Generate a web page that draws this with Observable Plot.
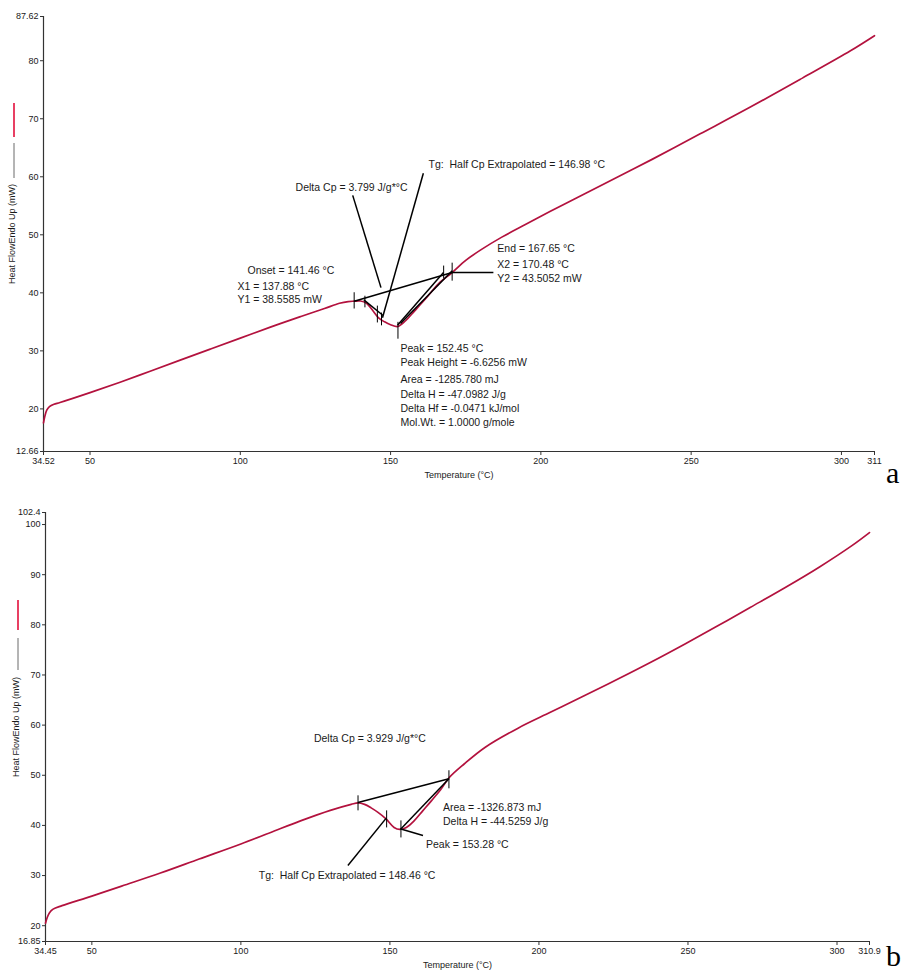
<!DOCTYPE html>
<html>
<head>
<meta charset="utf-8">
<script src="https://cdn.jsdelivr.net/npm/d3@7"></script>
<script src="https://cdn.jsdelivr.net/npm/@observablehq/plot@0.6"></script>
<style>
  html, body { margin: 0; padding: 0; background: #fff; }
  #wrap { position: relative; width: 903px; height: 976px; overflow: hidden; background: #fff; }
  #wrap > div.panel { position: absolute; left: 0; }
  .tag { position: absolute; font-family: "Liberation Serif", "DejaVu Serif", serif; font-size: 30px; line-height: 1; color: #000; }
</style>
</head>
<body>
<div id="wrap">
  <div class="panel" id="pa" style="top:0"></div>
  <div class="panel" id="pb" style="top:490px"></div>
  <div class="tag" style="left:886px; top:458px">a</div>
  <div class="tag" style="left:886px; top:941px">b</div>
</div>
<script>
// ---------------- Panel a data ----------------
const tempA = [34.52, 35.0, 35.6, 36.5, 38, 40, 50, 60, 70, 80, 90, 100, 110, 120, 128, 133, 135.9, 137.88, 140, 142, 144, 146, 148, 150, 152.45, 155, 158, 162, 166, 170.48, 175, 180, 187, 195, 203, 212, 220, 237, 253, 270, 287, 303, 311];
const heatA = [17.6, 18.8, 19.8, 20.4, 20.8, 21.1, 22.8, 24.6, 26.5, 28.4, 30.3, 32.2, 34.1, 35.9, 37.3, 38.2, 38.5, 38.56, 38.6, 38.2, 37.0, 35.7, 35.0, 34.5, 34.2, 35.2, 36.9, 39.2, 41.6, 43.5, 45.6, 47.4, 49.6, 51.8, 54.0, 56.4, 58.5, 63.0, 67.4, 72.1, 77.0, 81.7, 84.3];
const xTicksA = [34.52, 50, 100, 150, 200, 250, 300, 311];
const yTicksA = [12.66, 20, 30, 40, 50, 60, 70, 80, 87.62];
// annotation segments (temperature, heat flow)
const segX1A = [137.88, 170.48, 141.1, 152.3, 153.3, 137.4, 160.9];
const segY1A = [38.56, 43.51, 38.8, 34.4, 34.7, 56.8, 60.6];
const segX2A = [170.48, 184.2, 147.5, 167.6, 170.5, 146.8, 147.3];
const segY2A = [43.51, 43.51, 36.1, 43.5, 43.8, 40.9, 35.7];
// short vertical markers
const markTA = [137.88, 141.46, 145.6, 146.98, 152.45, 167.65, 170.48];
const markLoA = [37.3, 37.5, 34.9, 34.4, 32.1, 42.5, 42.1];
const markHiA = [40.1, 39.5, 37.8, 36.6, 35.0, 44.7, 45.2];
// labels
const labelTextA = [
  "Tg:  Half Cp Extrapolated = 146.98 °C",
  "Delta Cp = 3.799 J/g*°C",
  "Onset = 141.46 °C",
  "X1 = 137.88 °C",
  "Y1 = 38.5585 mW",
  "End = 167.65 °C",
  "X2 = 170.48 °C",
  "Y2 = 43.5052 mW",
  "Peak = 152.45 °C",
  "Peak Height = -6.6256 mW",
  "Area = -1285.780 mJ",
  "Delta H = -47.0982 J/g",
  "Delta Hf = -0.0471 kJ/mol",
  "Mol.Wt. = 1.0000 g/mole"
];
const labelXA = [162.6, 118.4, 102.4, 99.05, 99.05, 185.5, 185.5, 185.5, 153.3, 153.3, 153.3, 153.3, 153.3, 153.3];
const labelYA = [62.1, 58.2, 43.85, 41.1, 38.85, 47.6, 44.9, 42.5, 30.4, 28.0, 25.1, 22.5, 20.1, 17.66];

// ---------------- Panel b data ----------------
const tempB = [34.45, 35.0, 35.8, 37, 40, 50, 60, 73, 86, 100, 110, 120, 130, 137, 139.3, 141.5, 143.7, 146, 148.7, 151.4, 153.3, 155.5, 158.1, 161, 163.9, 167, 170, 175, 182, 193, 204, 215, 226.5, 238, 249, 260, 271, 282.5, 294, 305, 310.9];
const heatB = [20.5, 21.6, 22.6, 23.3, 24.0, 25.9, 27.9, 30.5, 33.3, 36.3, 38.6, 40.9, 43.0, 44.2, 44.5, 44.2, 43.5, 42.6, 41.3, 39.6, 39.2, 39.6, 40.9, 42.9, 44.9, 47.1, 49.6, 52.3, 55.6, 59.4, 62.6, 65.8, 69.2, 72.7, 76.2, 79.8, 83.5, 87.4, 91.5, 95.8, 98.4];
const xTicksB = [34.45, 50, 100, 150, 200, 250, 300, 310.9];
const yTicksB = [16.85, 20, 30, 40, 50, 60, 70, 80, 90, 100, 102.4];
const segX1B = [139.3, 153.5, 135.9, 153.7];
const segY1B = [44.57, 39.2, 32.0, 39.3];
const segX2B = [169.8, 169.8, 148.7, 161.1];
const segY2B = [49.3, 49.3, 41.4, 38.0];
const markTB = [139.3, 148.9, 153.7, 169.8];
const markLoB = [43.0, 39.6, 37.6, 47.4];
const markHiB = [46.0, 43.0, 41.0, 51.0];
const labelTextB = [
  "Delta Cp = 3.929 J/g*°C",
  "Area = -1326.873 mJ",
  "Delta H = -44.5259 J/g",
  "Peak = 153.28 °C",
  "Tg:  Half Cp Extrapolated = 148.46 °C"
];
const labelXB = [124.5, 167.8, 167.8, 162.1, 106.0];
const labelYB = [57.3, 43.6, 40.8, 36.2, 30.0];

const yTitle = "Heat FlowEndo Up (mW)";
const xTitle = "Temperature (°C)";

// ---------------- helpers ----------------
const CURVE = "#b3123e";
const INK = "#1a1a1a";
const FONT = "'Liberation Sans', Arial, sans-serif";

function zipXY(xs, ys) { return xs.map((x, i) => ({x, y: ys[i]})); }
function segs(x1, y1, x2, y2) { return x1.map((d, i) => ({x1: d, y1: y1[i], x2: x2[i], y2: y2[i]})); }
function marks(t, lo, hi) { return t.map((d, i) => ({x1: d, y1: lo[i], x2: d, y2: hi[i]})); }
function labels(txt, x, y) { return txt.map((d, i) => ({text: d, x: x[i], y: y[i]})); }

function legendMark(lx, redTop, redBot, grayTop, grayBot) {
  return () => {
    const g = d3.create("svg:g");
    g.append("line").attr("x1", lx).attr("x2", lx).attr("y1", redTop).attr("y2", redBot)
      .attr("stroke", "#e3103c").attr("stroke-width", 1.6);
    g.append("line").attr("x1", lx).attr("x2", lx).attr("y1", grayTop).attr("y2", grayBot)
      .attr("stroke", "#6a6a6a").attr("stroke-width", 1);
    return g.node();
  };
}

function panel(cfg) {
  return Plot.plot({
    width: 903,
    height: cfg.height,
    marginLeft: cfg.ml, marginRight: cfg.mr, marginTop: cfg.mt, marginBottom: cfg.mb,
    style: {fontFamily: FONT, fontSize: "9px", background: "#fff", color: INK},
    x: {domain: [cfg.xTicks[0], cfg.xTicks[cfg.xTicks.length - 1]]},
    y: {domain: [cfg.yTicks[0], cfg.yTicks[cfg.yTicks.length - 1]]},
    marks: [
      Plot.ruleX([cfg.xTicks[0]], {stroke: "#333", strokeWidth: 1.2}),
      Plot.ruleY([cfg.yTicks[0]], {stroke: "#333", strokeWidth: 1.2}),
      Plot.axisX({ticks: cfg.xTicks, tickFormat: d => String(d), tickSize: 4, tickPadding: 2, label: null, stroke: "#333"}),
      Plot.axisY({ticks: cfg.yTicks, tickFormat: d => String(d), tickSize: 3, tickPadding: 2, label: null, stroke: "#333"}),
      Plot.text([xTitle], {frameAnchor: "bottom", dy: 26, fontSize: 9, fill: INK}),
      Plot.text([yTitle], {frameAnchor: "left", textAnchor: "middle", dx: cfg.titleDx, rotate: -90, fontSize: 9, fill: INK}),
      legendMark(cfg.lx, cfg.red[0], cfg.red[1], cfg.gray[0], cfg.gray[1]),
      Plot.line(zipXY(cfg.temp, cfg.heat), {x: "x", y: "y", stroke: CURVE, strokeWidth: 1.7, curve: "catmull-rom"}),
      Plot.link(cfg.segs, {x1: "x1", y1: "y1", x2: "x2", y2: "y2", stroke: "#000", strokeWidth: 1.5}),
      Plot.link(cfg.marks, {x1: "x1", y1: "y1", x2: "x2", y2: "y2", stroke: "#000", strokeWidth: 1}),
      Plot.text(cfg.labels, {x: "x", y: "y", text: "text", textAnchor: "start", fontSize: 10.5, fill: INK})
    ]
  });
}

document.getElementById("pa").append(panel({
  height: 490, ml: 43, mr: 29, mt: 16, mb: 39,
  xTicks: xTicksA, yTicks: yTicksA, temp: tempA, heat: heatA,
  segs: segs(segX1A, segY1A, segX2A, segY2A),
  marks: marks(markTA, markLoA, markHiA),
  labels: labels(labelTextA, labelXA, labelYA),
  titleDx: -31, lx: 14, red: [103, 137], gray: [143, 178]
}));

document.getElementById("pb").append(panel({
  height: 486, ml: 45, mr: 34, mt: 22, mb: 35,
  xTicks: xTicksB, yTicks: yTicksB, temp: tempB, heat: heatB,
  segs: segs(segX1B, segY1B, segX2B, segY2B),
  marks: marks(markTB, markLoB, markHiB),
  labels: labels(labelTextB, labelXB, labelYB),
  titleDx: -29, lx: 18, red: [110, 140], gray: [148, 180]
}));
</script>
</body>
</html>
